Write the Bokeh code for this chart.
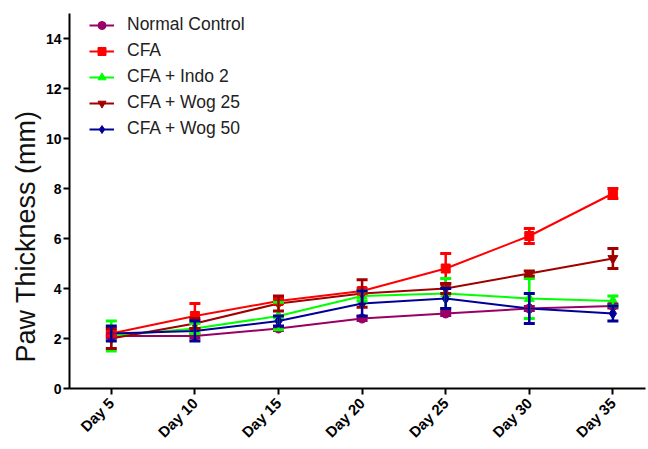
import math
from bokeh.plotting import figure
from bokeh.models import (ColumnDataSource, Whisker, TeeHead, Legend, LegendItem,
                          FixedTicker, Range1d, Title)
from bokeh.embed import file_html
from bokeh.resources import INLINE

days = ["Day 5", "Day 10", "Day 15", "Day 20", "Day 25", "Day 30", "Day 35"]
xpos = [1, 2, 3, 4, 5, 6, 7]

series_names = ["Normal Control", "CFA", "CFA + Indo 2", "CFA + Wog 25", "CFA + Wog 50"]
normal_mean = [2.1, 2.1, 2.4, 2.8, 3.0, 3.2, 3.3]
normal_err = [0.08, 0.08, 0.08, 0.08, 0.08, 0.08, 0.08]
cfa_mean = [2.2, 2.9, 3.5, 3.9, 4.8, 6.1, 7.8]
cfa_err = [0.1, 0.5, 0.1, 0.1, 0.6, 0.3, 0.2]
indo_mean = [2.1, 2.4, 2.9, 3.7, 3.8, 3.6, 3.5]
indo_err = [0.6, 0.2, 0.55, 0.2, 0.6, 0.8, 0.2]
wog25_mean = [2.0, 2.6, 3.4, 3.8, 4.0, 4.6, 5.2]
wog25_err = [0.4, 0.2, 0.3, 0.55, 0.2, 0.1, 0.4]
wog50_mean = [2.2, 2.3, 2.7, 3.4, 3.6, 3.2, 3.0]
wog50_err = [0.3, 0.4, 0.2, 0.5, 0.4, 0.6, 0.3]

colors = ["#990066", "#ff0000", "#00ff00", "#a00000", "#000099"]
markers = ["circle", "square", "triangle", "inverted_triangle", "diamond"]
msizes = [9, 9, 10, 10, 11]
means = [normal_mean, cfa_mean, indo_mean, wog25_mean, wog50_mean]
errs = [normal_err, cfa_err, indo_err, wog25_err, wog50_err]

p = figure(width=648, height=449, output_backend="svg", toolbar_location=None,
           x_range=Range1d(0.5, 7.39), y_range=Range1d(0, 15),
           min_border_left=69, min_border_right=3, min_border_top=13, min_border_bottom=61)
p.outline_line_color = None
p.xgrid.grid_line_color = None
p.ygrid.grid_line_color = None
p.background_fill_color = "white"
p.border_fill_color = "white"

FONT = "Liberation Sans"

items = []
for name, c, m, ms, mean, err in zip(series_names, colors, markers, msizes, means, errs):
    src = ColumnDataSource(dict(x=xpos, y=mean,
                                upper=[a + b for a, b in zip(mean, err)],
                                lower=[a - b for a, b in zip(mean, err)]))
    w = Whisker(source=src, base="x", upper="upper", lower="lower",
                line_color=c, line_width=2.5, level="glyph",
                upper_head=TeeHead(size=11, line_color=c, line_width=3),
                lower_head=TeeHead(size=11, line_color=c, line_width=3))
    p.add_layout(w)
    r1 = p.line("x", "y", source=src, line_color=c, line_width=2)
    r2 = p.scatter("x", "y", source=src, marker=m, size=ms, fill_color=c, line_color=c)
    items.append(LegendItem(label=name, renderers=[r1, r2]))

legend = Legend(items=items, location=(20, 249), padding=0, margin=0,
                border_line_color=None, background_fill_alpha=0,
                glyph_width=25, glyph_height=20, spacing=5, label_standoff=13,
                label_text_font=FONT, label_text_font_size="17.5px",
                label_text_color="#222222")
p.add_layout(legend)

p.xaxis.ticker = FixedTicker(ticks=xpos)
p.xaxis.major_label_overrides = {x: d for x, d in zip(xpos, days)}
p.xaxis.major_label_orientation = math.pi / 4
p.yaxis.ticker = FixedTicker(ticks=[0, 2, 4, 6, 8, 10, 12, 14])

for ax in (p.xaxis[0], p.yaxis[0]):
    ax.axis_line_width = 2
    ax.axis_line_color = "black"
    ax.major_tick_line_width = 2
    ax.major_tick_line_color = "black"
    ax.major_tick_out = 6
    ax.major_tick_in = 0
    ax.minor_tick_line_color = None
    ax.major_label_text_font = FONT
    ax.major_label_text_font_style = "bold"
    ax.major_label_text_color = "black"

p.xaxis.major_label_text_font_size = "15px"
p.yaxis.major_label_text_font_size = "14px"
p.yaxis.major_label_standoff = 2
p.xaxis.major_label_standoff = 6

ytitle = Title(text="Paw Thickness (mm)", align="left", offset=26,
               text_font=FONT, text_font_size="27px", text_font_style="normal",
               text_color="#111111", standoff=4)
p.add_layout(ytitle, "left")

open("out.html", "w").write(file_html(p, INLINE))
